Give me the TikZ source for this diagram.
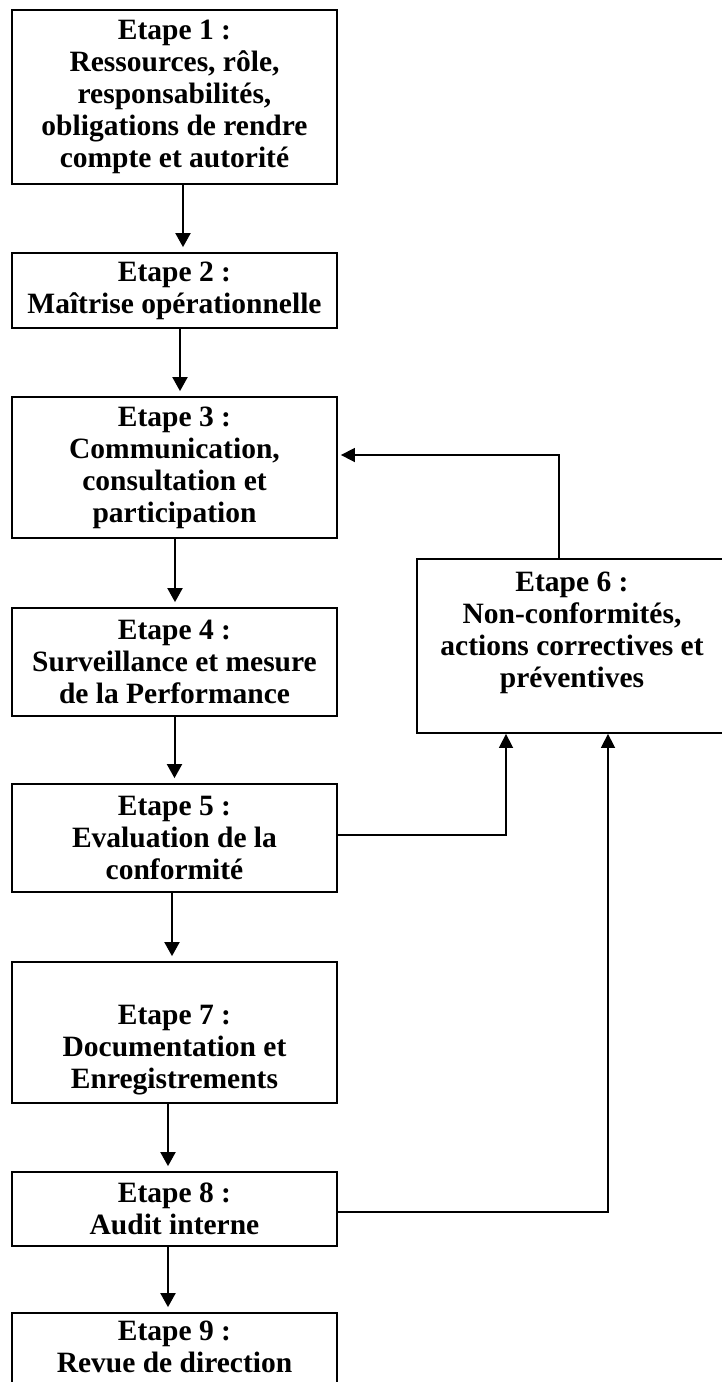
\documentclass[tikz,border=0pt]{standalone}
\usepackage{fontspec}
\setmainfont{Liberation Serif}
\usetikzlibrary{arrows.meta}

\tikzset{
  stepbox/.style={draw, line width=1.8pt, minimum width=325pt, inner sep=0pt,
    align=center, font=\fontsize{29.5}{32}\selectfont\bfseries},
  flow/.style={line width=2pt, -{Triangle[length=14pt,width=15pt]}, shorten >=5pt},
  back/.style={line width=1.6pt, -{Triangle[length=14pt,width=14pt]}}
}

\begin{document}
\begin{tikzpicture}[x=1pt, y=-1pt]
        \useasboundingbox (0,0) rectangle (721,1382);

        \node (e1) at (174.5, 97) [stepbox, minimum height=174pt] {Etape 1 :\\ Ressources, rôle,\\ responsabilités,\\ obligations de rendre\\ compte et autorité};
        \node (e2) at (174.5, 290.5) [stepbox, minimum height=75pt] {Etape 2 :\\ Maîtrise opérationnelle};
        \node (e3) at (174.5, 467.5) [stepbox, minimum height=141pt] {Etape 3 :\\ Communication,\\ consultation et\\ participation};
        \node (e4) at (174.5, 662) [stepbox, minimum height=108pt] {Etape 4 :\\ Surveillance et mesure\\ de la Performance};
        \node (e5) at (174.5, 838) [stepbox, minimum height=108pt] {Etape 5 :\\ Evaluation de la\\ conformité};
        \node (e7) at (174.5, 1032.5) [stepbox, minimum height=141pt] {\strut\\ Etape 7 :\\ Documentation et\\ Enregistrements};
        \node (e8) at (174.5, 1209) [stepbox, minimum height=74pt] {Etape 8 :\\ Audit interne};
        \node (e9) at (174.5, 1362.5) [stepbox, minimum height=99pt] {Etape 9 :\\ Revue de direction\\ ~};

        \node (e6) at (572, 646) [stepbox, minimum width=310pt, minimum height=174pt] {Etape 6 :\\ Non-conformités,\\ actions correctives et\\ préventives\\ ~};

        \draw[flow] ([xshift=8.5pt]e1.south) -- ([xshift=8.5pt]e2.north);
        \draw[flow] ([xshift=5.5pt]e2.south) -- ([xshift=5.5pt]e3.north);
        \draw[flow] ([xshift=0.5pt]e3.south) -- ([xshift=0.5pt]e4.north);
        \draw[flow] (e4) -- (e5);
        \draw[flow] ([xshift=-2.5pt]e5.south) -- ([xshift=-2.5pt]e7.north);
        \draw[flow] ([xshift=-6.5pt]e7.south) -- ([xshift=-6.5pt]e8.north);
        \draw[flow] ([xshift=-6.5pt]e8.south) -- ([xshift=-6.5pt]e9.north);

        \draw[back, shorten >=3pt] ([xshift=-13pt]e6.north) |- ([yshift=12.5pt]e3.east);
        \draw[back] ([yshift=3pt]e5.east) -| ([xshift=-66pt]e6.south);
        \draw[back] ([yshift=-3pt]e8.east) -| ([xshift=36pt]e6.south);

    \end{tikzpicture}
\end{document}
